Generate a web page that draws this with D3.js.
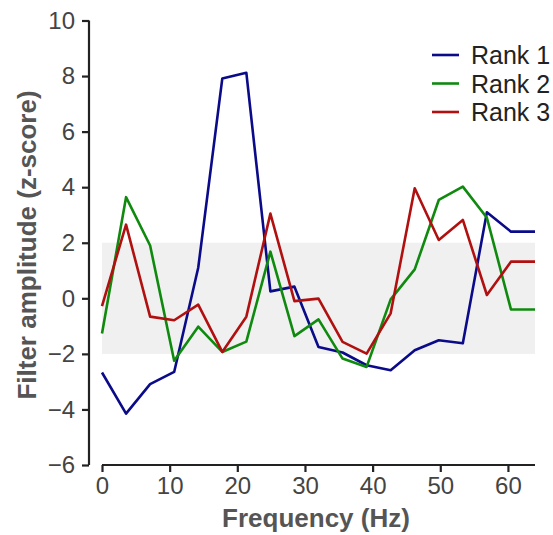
<!DOCTYPE html>
<html>
<head>
<meta charset="utf-8">
<script src="https://cdn.jsdelivr.net/npm/d3@7"></script>
<style>
  body { margin: 0; background: #fff; }
  text { font-family: "Liberation Sans", Arial, sans-serif; }
  .tick text { font-size: 24px; fill: #444; }
  .axis-label { font-size: 26px; font-weight: bold; fill: #555; }
</style>
</head>
<body>
<svg width="553" height="535"></svg>
<script>
const freqs = d3.range(19).map(i => i * 64 / 18);
const rank1 = [-2.67, -4.15, -3.09, -2.65, 1.1, 7.91, 8.12, 0.25, 0.42, -1.75, -1.95, -2.41, -2.59, -1.87, -1.51, -1.62, 3.1, 2.4, 2.4];
const rank2 = [-1.27, 3.64, 1.9, -2.25, -1.02, -1.93, -1.56, 1.68, -1.36, -0.76, -2.17, -2.47, -0.04, 1.04, 3.54, 4.02, 2.9, -0.4, -0.4];
const rank3 = [-0.28, 2.65, -0.66, -0.79, -0.23, -1.93, -0.66, 3.05, -0.1, -0.01, -1.57, -1.99, -0.54, 3.96, 2.1, 2.82, 0.12, 1.32, 1.32];
const seriesNames = ['Rank 1', 'Rank 2', 'Rank 3'];
const seriesColors = ['#0b0b8a', '#0f8a0f', '#b01010'];
const xTicks = [0, 10, 20, 30, 40, 50, 60];
const yTicks = [-6, -4, -2, 0, 2, 4, 6, 8, 10];
const band = [-2, 2];

const svg = d3.select('svg');

const xScale = d3.scaleLinear().domain([0, 64]).range([102, 535]);
const yScale = d3.scaleLinear().domain([-6, 10]).range([465, 20.5]);

// shaded +-2 band
svg.append('rect')
    .attr('x', xScale(0))
    .attr('y', yScale(band[1]))
    .attr('width', xScale(64) - xScale(0))
    .attr('height', yScale(band[0]) - yScale(band[1]))
    .attr('fill', '#f0f0f0');

const xAxisG = svg.append('g')
    .attr('transform', `translate(0,${yScale(-6)})`)
    .call(d3.axisBottom(xScale).tickValues(xTicks).tickSize(7).tickPadding(5));
xAxisG.select('.domain').attr('d', `M${xScale(0)},0H${xScale(64)}`);

const yAxisG = svg.append('g')
    .attr('transform', 'translate(89,0)')
    .call(d3.axisLeft(yScale).tickValues(yTicks).tickSize(7).tickPadding(7));
yAxisG.select('.domain').attr('d', `M0,${yScale(-6)}V${yScale(10)}`);

svg.selectAll('.domain, .tick line')
    .attr('stroke', '#222')
    .attr('stroke-width', 2.2);
svg.selectAll('g').attr('font-family', null).attr('font-size', null);

svg.append('text')
    .attr('class', 'axis-label')
    .attr('x', 316)
    .attr('y', 527)
    .attr('text-anchor', 'middle')
    .text('Frequency (Hz)');

svg.append('text')
    .attr('class', 'axis-label')
    .attr('transform', 'translate(35.5,245) rotate(-90)')
    .attr('text-anchor', 'middle')
    .text('Filter amplitude (z-score)');

const line = d3.line()
    .x((d, i) => xScale(freqs[i]))
    .y(d => yScale(d));

[rank1, rank2, rank3].forEach((s, k) => {
    svg.append('path')
        .datum(s)
        .attr('fill', 'none')
        .attr('stroke', seriesColors[k])
        .attr('stroke-width', 2.6)
        .attr('stroke-linejoin', 'round')
        .attr('d', line);
});

const legend = svg.append('g').attr('transform', 'translate(432,55)');
seriesNames.forEach((name, k) => {
    const row = legend.append('g').attr('transform', `translate(0,${k * 28.5})`);
    row.append('line')
        .attr('x1', 0).attr('x2', 27)
        .attr('stroke', seriesColors[k])
        .attr('stroke-width', 2.6);
    row.append('text')
        .attr('x', 39)
        .attr('y', 9)
        .attr('font-size', 25)
        .attr('fill', '#222')
        .text(name);
});
</script>
</body>
</html>
